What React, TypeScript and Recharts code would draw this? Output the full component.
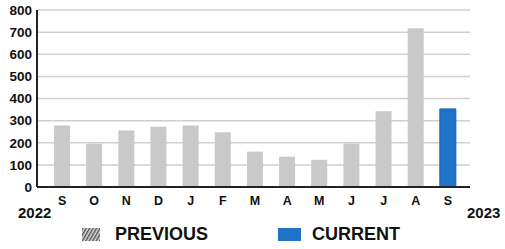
import { BarChart, Bar, XAxis, YAxis, CartesianGrid } from "recharts"

const months = ["S", "O", "N", "D", "J", "F", "M", "A", "M", "J", "J", "A", "S"]
const previous = [278, 195, 255, 272, 278, 247, 160, 137, 123, 196, 342, 717, null]
const current = [null, null, null, null, null, null, null, null, null, null, null, null, 353]
const yTicks = [0, 100, 200, 300, 400, 500, 600, 700, 800]

const data = months.map((m, i) => ({ month: m, previous: previous[i], current: current[i] }))

const font = "'Liberation Sans', Arial, sans-serif"

export default function App() {
  return (
    <div style={{ position: "fixed", left: 0, top: 0, width: 505, height: 249, background: "#fff", fontFamily: font }}>
      <BarChart width={505} height={249} data={data} margin={{ top: 10, right: 35, left: 0, bottom: 42 }} barSize={16}>
        <CartesianGrid vertical={false} stroke="#cfcfcf" strokeWidth={1.5} />
        <XAxis
          dataKey="month"
          interval={0}
          padding={{ left: 9, right: 6 }}
          tickLine={false}
          axisLine={{ stroke: "#222", strokeWidth: 2 }}
          tick={{ fill: "#111", fontSize: 12.5, fontWeight: 700, fontFamily: font }}
          tickMargin={3}
          height={20}
        />
        <YAxis
          domain={[0, 800]}
          ticks={yTicks}
          interval={0}
          width={37}
          tickLine={false}
          tickSize={0}
          tickMargin={5}
          axisLine={{ stroke: "#222", strokeWidth: 2 }}
          tick={{ fill: "#111", fontSize: 13.5, fontWeight: 700, fontFamily: font }}
        />
        <Bar dataKey="previous" stackId="a" fill="#c9c9c9" isAnimationActive={false} />
        <Bar dataKey="current" stackId="a" fill="#1f74c8" stroke="#1560ad" isAnimationActive={false} />
      </BarChart>
      <div style={{ position: "absolute", left: 18, top: 204, fontSize: 15, fontWeight: 700, color: "#111" }}>2022</div>
      <div style={{ position: "absolute", left: 467, top: 204, fontSize: 15, fontWeight: 700, color: "#111" }}>2023</div>
      <div style={{ position: "absolute", left: 82, top: 224, display: "flex", alignItems: "center" }}>
        <svg width={18} height={13}>
          <defs>
            <pattern id="hatch" width="3" height="3" patternUnits="userSpaceOnUse" patternTransform="rotate(30)">
              <rect width="3" height="3" fill="#ddd" />
              <rect width="1.5" height="3" fill="#555" />
            </pattern>
          </defs>
          <rect width={18} height={13} fill="url(#hatch)" />
        </svg>
        <span style={{ marginLeft: 15, fontSize: 18, fontWeight: 700, color: "#111" }}>PREVIOUS</span>
      </div>
      <div style={{ position: "absolute", left: 278, top: 224, display: "flex", alignItems: "center" }}>
        <div style={{ width: 23, height: 13, background: "#1f74c8" }} />
        <span style={{ marginLeft: 11, fontSize: 18, fontWeight: 700, color: "#111" }}>CURRENT</span>
      </div>
    </div>
  )
}
